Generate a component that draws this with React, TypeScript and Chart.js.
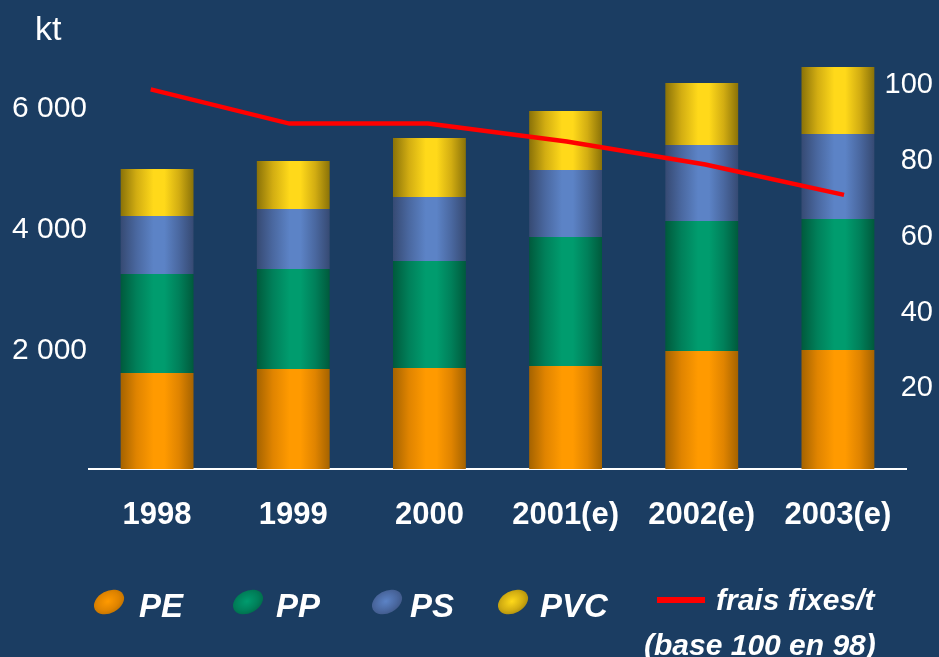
import React, { useEffect, useRef } from 'react';
import { Chart, registerables } from 'chart.js';

Chart.register(...registerables);

// ---------- data ----------
const categories = ['1998', '1999', '2000', '2001(e)', '2002(e)', '2003(e)'];
const peValues = [1585, 1651, 1667, 1700, 1948, 1965];
const ppValues = [1634, 1651, 1767, 2130, 2146, 2163];
const psValues = [958, 991, 1057, 1107, 1255, 1403];
const pvcValues = [776, 792, 974, 973, 1024, 1106];
const fixedCostIndex = [98.0, 89.0, 89.0, 84.3, 78.2, 70.2];
const seriesNames = ['PE', 'PP', 'PS', 'PVC'];
const lineName = 'frais fixes/t';
const lineNote = '(base 100 en 98)';
const unitLabel = 'kt';
const leftTicks = [2000, 4000, 6000];
const rightTicks = [20, 40, 60, 80, 100];

// ---------- styles ----------
const FONT = "'Liberation Sans', Arial, Helvetica, sans-serif";
const BG = '#1b3d62';
const BAR_PCT = 0.535;
const palettes: [string, string, string][] = [
  ['#a56300', '#e08400', '#ff9a00'],
  ['#005a3c', '#00805a', '#009c6e'],
  ['#364a73', '#4a68a0', '#5c83c6'],
  ['#8a7208', '#d2ad12', '#ffd91a'],
];
const legendSlots = [
  { marker: 109, text: 139 },
  { marker: 248, text: 276 },
  { marker: 387, text: 410 },
  { marker: 513, text: 540 },
];
// small downward nudge of the y tick labels (via a blank first line)
const LABEL_NUDGE_LH = '6px';

function barGradient(p: [string, string, string]) {
  return (ctx: any) => {
    const chart = ctx.chart;
    const xs = chart.scales && chart.scales.x;
    if (!chart.chartArea || !xs || ctx.dataIndex == null) return p[2];
    const center = xs.getPixelForValue(ctx.dataIndex);
    const half = ((xs.width / categories.length) * BAR_PCT) / 2;
    if (!isFinite(center) || !isFinite(half)) return p[2];
    const g = chart.ctx.createLinearGradient(center - half, 0, center + half, 0);
    g.addColorStop(0, p[0]);
    g.addColorStop(0.22, p[1]);
    g.addColorStop(0.45, p[2]);
    g.addColorStop(0.6, p[2]);
    g.addColorStop(0.8, p[1]);
    g.addColorStop(1, p[0]);
    return g;
  };
}

const fmt = (v: number) => String(v).replace(/\B(?=(\d{3})+(?!\d))/g, ' ');

export default function App() {
  const ref = useRef<HTMLCanvasElement | null>(null);

  useEffect(() => {
    const canvas = ref.current;
    if (!canvas) return;
    const series = [peValues, ppValues, psValues, pvcValues];
    const chart = new Chart(canvas, {
      type: 'bar',
      data: {
        labels: categories,
        datasets: [
          {
            type: 'line',
            label: lineName,
            data: fixedCostIndex.map((v, i) => ({ x: i, y: v })),
            xAxisID: 'x2',
            yAxisID: 'y2',
            borderColor: '#ff0000',
            borderWidth: 4.5,
            pointRadius: 0,
            tension: 0,
            fill: false,
            order: 0,
          } as any,
          ...series.map((vals, k) => ({
            type: 'bar',
            label: seriesNames[k],
            data: vals,
            xAxisID: 'x',
            yAxisID: 'y',
            stack: 'kt',
            grouped: false,
            backgroundColor: barGradient(palettes[k]),
            borderWidth: 0,
            barPercentage: BAR_PCT,
            categoryPercentage: 1,
            order: 1,
          })) as any,
        ],
      },
      options: {
        responsive: false,
        animation: false,
        devicePixelRatio: 1,
        layout: { padding: { top: 45, right: 0, bottom: 0, left: 0 } },
        plugins: {
          legend: { display: false },
          tooltip: { enabled: false },
        },
        scales: {
          x: {
            type: 'category',
            stacked: true,
            position: 'bottom',
            z: 1,
            grid: { display: false, drawTicks: false },
            border: { display: true, color: '#ffffff', width: 2 },
            ticks: {
              color: '#ffffff',
              font: { family: FONT, size: 31, weight: 'bold' },
              padding: 28,
              maxRotation: 0,
              autoSkip: false,
            },
            afterFit: (s: any) => {
              s.height = 188;
            },
          },
          x2: {
            type: 'linear',
            display: false,
            offset: false,
            bounds: 'data',
            min: -0.445,
            max: 5.447,
          },
          y: {
            type: 'linear',
            stacked: true,
            position: 'left',
            min: 0,
            max: 7000,
            grid: { display: false, drawTicks: false },
            border: { display: false },
            ticks: {
              color: '#ffffff',
              font: { family: FONT, size: 30, lineHeight: LABEL_NUDGE_LH },
              padding: 2,
              callback: (v: any) => ['', fmt(Number(v))],
            },
            afterBuildTicks: (s: any) => {
              s.ticks = leftTicks.map((v) => ({ value: v }));
            },
            afterFit: (s: any) => {
              s.width = 89;
            },
          },
          y2: {
            type: 'linear',
            position: 'right',
            min: -2.03,
            max: 109.71,
            grid: { display: false, drawTicks: false },
            border: { display: false },
            ticks: {
              color: '#ffffff',
              font: { family: FONT, size: 29, lineHeight: LABEL_NUDGE_LH },
              mirror: true,
              padding: 27,
              crossAlign: 'near',
              callback: (v: any) => ['', String(v)],
            },
            afterBuildTicks: (s: any) => {
              s.ticks = rightTicks.map((v) => ({ value: v }));
            },
            afterFit: (s: any) => {
              s.width = 33;
            },
          },
        },
      } as any,
    });
    return () => chart.destroy();
  }, []);

  const textStyle = (left: number, top: number, size: number): React.CSSProperties => ({
    position: 'absolute',
    left,
    top,
    fontSize: size,
    lineHeight: `${size}px`,
    fontStyle: 'italic',
    fontWeight: 'bold',
    color: '#ffffff',
    whiteSpace: 'nowrap',
  });

  return (
    <div
      style={{
        position: 'fixed',
        left: 0,
        top: 0,
        width: 939,
        height: 657,
        background: BG,
        overflow: 'hidden',
        fontFamily: FONT,
      }}
    >
      <canvas
        ref={ref}
        width={939}
        height={657}
        style={{ position: 'absolute', left: 0, top: 0, width: 939, height: 657 }}
      />
      <span
        style={{
          position: 'absolute',
          left: 35,
          top: 11,
          fontSize: 34,
          lineHeight: '34px',
          color: '#ffffff',
        }}
      >
        {unitLabel}
      </span>
      {seriesNames.map((name, k) => (
        <React.Fragment key={name}>
          <div
            style={{
              position: 'absolute',
              left: legendSlots[k].marker - 16,
              top: 601.5 - 11,
              width: 32,
              height: 22,
              borderRadius: '50%',
              transform: 'rotate(-28deg)',
              background: `radial-gradient(ellipse at 48% 45%, ${palettes[k][2]} 0%, ${palettes[k][1]} 50%, ${palettes[k][0]} 100%)`,
            }}
          />
          <span style={textStyle(legendSlots[k].text, 589, 33)}>{name}</span>
        </React.Fragment>
      ))}
      <div
        style={{
          position: 'absolute',
          left: 657,
          top: 597,
          width: 48,
          height: 6,
          background: '#ff0000',
        }}
      />
      <span style={textStyle(716, 584.5, 30)}>{lineName}</span>
      <span style={textStyle(644, 630, 30)}>{lineNote}</span>
    </div>
  );
}
